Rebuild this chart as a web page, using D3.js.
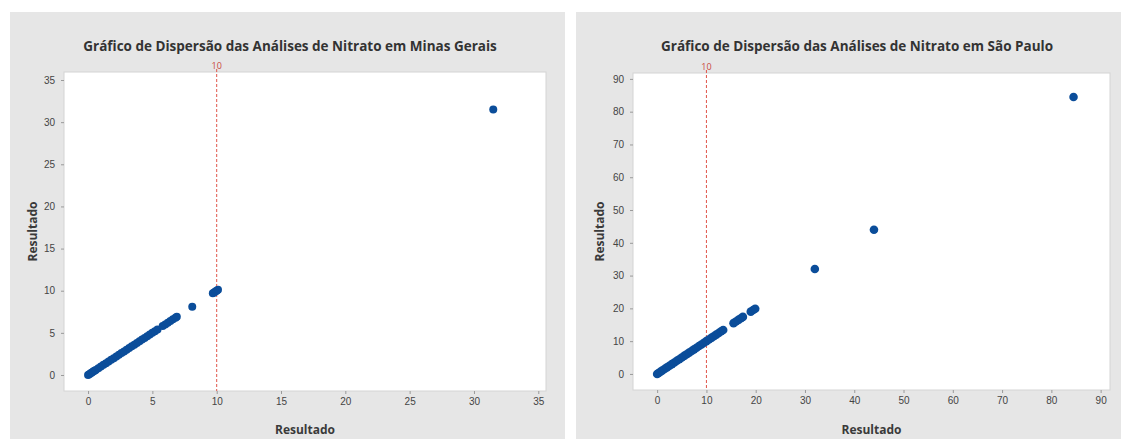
<!DOCTYPE html>
<html>
<head>
<meta charset="utf-8">
<script src="https://cdn.jsdelivr.net/npm/d3@7"></script>
<style>
    body { margin: 0; background: #fff; }
    svg { display: block; font-family: "Open Sans", "DejaVu Sans", sans-serif; }
</style>
</head>
<body>
<svg id="chart" width="1121" height="439"></svg>
<script>
// values (Resultado plotted against itself)
const minasValues = [0, 0.1, 0.2, 0.3, 0.4, 0.5, 0.6, 0.8, 1.0, 1.2, 1.4, 1.6, 1.8, 2.0,
    2.2, 2.4, 2.6, 2.8, 3.0, 3.2, 3.4, 3.6, 3.8, 4.0, 4.2, 4.4, 4.6, 4.8, 5.0, 5.2, 5.4,
    5.8, 6.0, 6.2, 6.4, 6.6, 6.8, 6.9, 8.1, 9.7, 9.8, 9.9, 10.0, 10.1, 31.5];
const paulValues = [0, 0.3, 0.6, 1.0, 1.5, 2.0, 2.5, 3.0, 3.5, 4.0, 4.5, 5.0, 5.5, 6.0,
    6.5, 7.0, 7.5, 8.0, 8.5, 9.0, 9.5, 10.0, 10.5, 11.0, 11.5, 12.0, 12.5, 13.0, 13.4,
    15.5, 16.0, 16.5, 17.0, 17.4, 19.0, 19.5, 19.9, 32.0, 44.0, 84.5];
const minasTicks = [0, 5, 10, 15, 20, 25, 30, 35];
const paulTicks = [0, 10, 20, 30, 40, 50, 60, 70, 80, 90];
const limit = 10;

const panels = [
    {
        title: "Gráfico de Dispersão das Análises de Nitrato em Minas Gerais",
        values: minasValues, ticks: minasTicks,
        box: { x: 10, w: 555 },
        plot: { x0: 64, x1: 546, y0: 72, y1: 391 },
        xDom: [-1.87, 35.6], yDom: [-1.9, 35.95], r: 4, titleX: 290, yLabX: 37
    },
    {
        title: "Gráfico de Dispersão das Análises de Nitrato em São Paulo",
        values: paulValues, ticks: paulTicks,
        box: { x: 576, w: 545 },
        plot: { x0: 633, x1: 1110, y0: 73, y1: 390 },
        xDom: [-4.9, 91.9], yDom: [-4.9, 91.8], r: 4.3, titleX: 857, yLabX: 604
    }
];

const svg = d3.select("#chart");

panels.forEach(p => {
    const g = svg.append("g");

    g.append("rect")
        .attr("x", p.box.x).attr("y", 12)
        .attr("width", p.box.w).attr("height", 427)
        .attr("fill", "#e6e6e6");

    const x = d3.scaleLinear().domain(p.xDom).range([p.plot.x0, p.plot.x1]);
    const y = d3.scaleLinear().domain(p.yDom).range([p.plot.y1, p.plot.y0]);

    g.append("rect")
        .attr("x", p.plot.x0).attr("y", p.plot.y0)
        .attr("width", p.plot.x1 - p.plot.x0).attr("height", p.plot.y1 - p.plot.y0)
        .attr("fill", "#fff")
        .attr("stroke", "#d4d4d4");

    const xAxis = g.append("g")
        .attr("transform", `translate(0,${p.plot.y1})`)
        .call(d3.axisBottom(x).tickValues(p.ticks).tickSize(3).tickPadding(4));
    const yAxis = g.append("g")
        .attr("transform", `translate(${p.plot.x0},0)`)
        .call(d3.axisLeft(y).tickValues(p.ticks).tickSize(3).tickPadding(6));
    [xAxis, yAxis].forEach(a => {
        a.select(".domain").remove();
        a.selectAll(".tick line").attr("stroke", "#9a9a9a");
        a.selectAll(".tick text").attr("fill", "#444").attr("font-size", 10);
    });

    // reference line at 10
    g.append("line")
        .attr("x1", x(limit)).attr("x2", x(limit))
        .attr("y1", p.plot.y0 - 3).attr("y2", p.plot.y1)
        .attr("stroke", "#e0554a").attr("stroke-width", 1)
        .attr("stroke-dasharray", "3,2");
    g.append("text")
        .attr("x", x(limit)).attr("y", p.plot.y0 - 3)
        .attr("text-anchor", "middle")
        .attr("font-size", 9)
        .attr("fill", "#c9493f")
        .text(limit);

    g.append("g")
        .selectAll("circle")
        .data(p.values)
        .join("circle")
        .attr("cx", d => x(d))
        .attr("cy", d => y(d))
        .attr("r", p.r)
        .attr("fill", "#0b4d9a");

    g.append("text")
        .attr("x", p.titleX).attr("y", 51)
        .attr("text-anchor", "middle")
        .attr("font-size", 13.5).attr("font-weight", "bold")
        .attr("fill", "#333")
        .text(p.title);

    g.append("text")
        .attr("x", (p.plot.x0 + p.plot.x1) / 2).attr("y", 434)
        .attr("text-anchor", "middle")
        .attr("font-size", 12).attr("font-weight", "bold")
        .attr("fill", "#3a3a3a")
        .text("Resultado");

    g.append("text")
        .attr("transform", `translate(${p.yLabX},${(p.plot.y0 + p.plot.y1) / 2}) rotate(-90)`)
        .attr("text-anchor", "middle")
        .attr("font-size", 12).attr("font-weight", "bold")
        .attr("fill", "#3a3a3a")
        .text("Resultado");
});
</script>
</body>
</html>
